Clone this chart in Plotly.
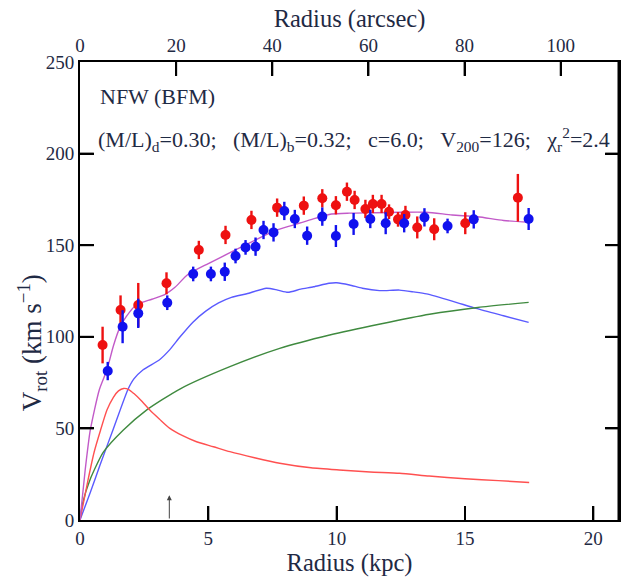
import plotly.graph_objects as go

# ---------------- data ----------------
red_r = [0.88, 1.58, 2.27, 3.37, 4.63, 5.67, 6.68, 7.68, 8.72, 9.44, 9.97, 10.40, 10.70,
         11.12, 11.41, 11.75, 12.04, 12.39, 12.68, 13.14, 13.80, 15.01, 17.06]
red_v = [95.5, 114.6, 117.4, 129.2, 147.4, 155.6, 163.8, 170.5, 171.6, 175.6, 171.8, 179.2, 174.7,
         169.8, 172.5, 172.5, 168.3, 164.1, 166.5, 159.7, 158.7, 162.0, 175.9]
red_e = [10, 8, 12, 6, 5, 5, 5, 5, 5, 5, 5, 5, 5,
         5, 5, 5, 4, 4, 5, 6, 6, 6, 13]

blue_r = [1.08, 1.66, 2.27, 3.40, 4.41, 5.10, 5.64, 6.06, 6.45, 6.84, 7.15, 7.54, 7.96,
          8.37, 8.85, 9.44, 9.97, 10.66, 11.31, 11.91, 12.63, 13.42, 14.32, 15.34, 17.48]
blue_v = [81.3, 105.5, 112.8, 118.6, 134.3, 134.3, 135.5, 144.1, 148.8, 149.2, 158.3, 157.0, 168.7,
          164.3, 155.2, 165.6, 155.0, 161.6, 164.3, 162.0, 162.0, 165.2, 160.5, 164.1, 164.3]
blue_e = [5, 9, 8, 4, 4, 4, 5, 4, 4, 5, 5, 5, 5,
          5, 5, 5, 6, 6, 5, 6, 5, 5, 4, 5, 6]

tot_r = [0, 0.2, 0.4, 0.75, 1.05, 1.3, 1.55, 1.8, 2.2, 2.8, 3.3, 3.7, 4.2, 5.0, 6.0, 7.0, 7.6, 8.3,
         9.0, 9.8, 10.5, 11.5, 12.5, 13.5, 14.5, 15.5, 16.5, 17.5]
tot_v = [0, 27, 49, 71, 82, 95, 105, 111, 117.5, 120.5, 123, 127, 134, 140, 147, 154, 158, 161,
         164, 167, 167.5, 167.7, 168, 168, 166.5, 165.5, 163.5, 162.5]

disk_r = [0, 0.4, 0.78, 1.28, 1.86, 2.1, 2.46, 3.1, 3.5, 3.9, 4.4, 4.9, 5.4, 5.9, 6.5, 7.26,
          7.7, 8.1, 8.6, 9.1, 9.7, 10.0, 10.5, 11.0, 11.67, 12.45, 13.0, 13.5, 14.5, 15.43,
          16.5, 17.48]
disk_v = [0, 15, 30, 49, 71, 77, 82, 87.5, 93, 100, 108, 114, 118.5, 121.5, 123.5, 126.5,
          125.5, 124.3, 126, 127.3, 129.2, 129.5, 128.3, 126.5, 125.2, 125.5, 124.5, 123.4,
          119.5, 115.5, 111.5, 107.9]

bulge_r = [0, 0.3, 0.55, 0.8, 1.05, 1.3, 1.5, 1.7, 1.9, 2.1, 2.4, 2.72, 3.1, 3.5, 4.0, 4.54,
           5.2, 5.84, 6.8, 7.78, 9.0, 10.1, 11.3, 12.45, 13.6, 15.0, 16.3, 17.5]
bulge_v = [0, 21, 37, 49, 60, 67, 70.5, 71.8, 71.2, 69, 65, 60, 55, 50, 46, 42.7,
           40, 37.3, 34, 31, 28.5, 27.3, 26.2, 25.5, 24, 22.5, 21.5, 20.5]

halo_r = [0, 0.1, 0.39, 0.91, 1.68, 2.59, 3.89, 5.84, 7.78, 9.73, 11.7, 13.62, 15.5, 17.48]
halo_v = [0, 9, 22, 37, 49, 60, 71.5, 83.7, 93.7, 101, 107, 112.3, 116, 118.8]

x_ticks = [0, 5, 10, 15, 20]
y_ticks = [0, 50, 100, 150, 200, 250]
arcsec_ticks = [0, 20, 40, 60, 80, 100]
kpc_per_arcsec = 0.1873
arrow_r = 3.48
arrow_top = 13.5

R_MAX = 21
V_MAX = 250
FONT = "Liberation Serif, Times New Roman, DejaVu Serif, serif"
TXT = "#1f2a44"
TICK_R = 0.54   # tick length in kpc (horizontal ticks)
TICK_V = 7.6    # tick length in km/s (vertical ticks)

fig = go.Figure()

for xs, ys, col in [(disk_r, disk_v, "#5a5aff"), (halo_r, halo_v, "#3f8a3f"),
                    (bulge_r, bulge_v, "#ff5050"), (tot_r, tot_v, "#c25ac8")]:
    fig.add_trace(go.Scatter(x=xs, y=ys, mode="lines",
                             line=dict(color=col, width=1.4, shape="spline", smoothing=0.6),
                             showlegend=False, hoverinfo="skip"))

fig.add_trace(go.Scatter(x=red_r, y=red_v, mode="markers",
                         marker=dict(color="#ee1111", size=10),
                         error_y=dict(type="data", array=red_e, color="#ee1111", thickness=2.4, width=0),
                         showlegend=False))
fig.add_trace(go.Scatter(x=blue_r, y=blue_v, mode="markers",
                         marker=dict(color="#1111ee", size=10),
                         error_y=dict(type="data", array=blue_e, color="#1111ee", thickness=2.4, width=0),
                         showlegend=False))

# ---- tick marks and right frame edge, drawn as one-sided error bars anchored on tick values ----
INVIS = dict(size=1, color="rgba(0,0,0,0)")
# bottom kpc ticks (upward)
fig.add_trace(go.Scatter(x=x_ticks[1:], y=[0] * (len(x_ticks) - 1), mode="markers", marker=INVIS,
                         error_y=dict(type="data", symmetric=False, array=[TICK_V] * (len(x_ticks) - 1),
                                      arrayminus=[0] * (len(x_ticks) - 1), color="black", thickness=2, width=0),
                         showlegend=False, hoverinfo="skip"))
# top arcsec ticks (downward), positioned through the kpc/arcsec conversion
top_pos = [a * kpc_per_arcsec for a in arcsec_ticks[1:]]
fig.add_trace(go.Scatter(x=top_pos, y=[V_MAX] * len(top_pos), mode="markers", marker=INVIS,
                         error_y=dict(type="data", symmetric=False, array=[0] * len(top_pos),
                                      arrayminus=[TICK_V] * len(top_pos), color="black", thickness=2, width=0),
                         showlegend=False, hoverinfo="skip"))
# left velocity ticks (rightward)
inner_v = y_ticks[1:-1]
fig.add_trace(go.Scatter(x=[0] * len(inner_v), y=inner_v, mode="markers", marker=INVIS,
                         error_x=dict(type="data", symmetric=False, array=[TICK_R] * len(inner_v),
                                      arrayminus=[0] * len(inner_v), color="black", thickness=2, width=0),
                         showlegend=False, hoverinfo="skip"))
# right velocity ticks (leftward)
fig.add_trace(go.Scatter(x=[R_MAX] * len(inner_v), y=inner_v, mode="markers", marker=INVIS,
                         error_x=dict(type="data", symmetric=False, array=[0] * len(inner_v),
                                      arrayminus=[TICK_R] * len(inner_v), color="black", thickness=2, width=0),
                         showlegend=False, hoverinfo="skip"))
# right frame edge
fig.add_trace(go.Scatter(x=[R_MAX], y=[0], mode="markers", marker=INVIS,
                         error_y=dict(type="data", symmetric=False, array=[V_MAX], arrayminus=[0],
                                      color="black", thickness=3, width=0),
                         showlegend=False, hoverinfo="skip"))

# invisible trace that activates the top (arcsec) axis
fig.add_trace(go.Scatter(x=[0], y=[0], xaxis="x2", mode="markers", marker=dict(opacity=0),
                         showlegend=False, hoverinfo="skip"))

fig.update_layout(
    template="none",
    width=623, height=577,
    margin=dict(l=80, r=4, t=62, b=57),
    plot_bgcolor="white", paper_bgcolor="white",
    font=dict(family=FONT, color=TXT),
    xaxis=dict(range=[0, R_MAX], tickmode="array", tickvals=x_ticks,
               ticks="inside", ticklen=14, tickwidth=2, tickcolor="black",
               showline=True, linecolor="black", linewidth=2, showgrid=False, zeroline=False,
               tickfont=dict(family=FONT, size=19, color=TXT),
               title=dict(text="Radius (kpc)", font=dict(family=FONT, size=24.5, color=TXT), standoff=1)),
    xaxis2=dict(range=[0, R_MAX / kpc_per_arcsec], tickmode="array", tickvals=arcsec_ticks,
                overlaying="x", side="top", anchor="y",
                ticks="inside", ticklen=14, tickwidth=2, tickcolor="black",
                showline=True, linecolor="black", linewidth=2, showgrid=False, zeroline=False,
                tickfont=dict(family=FONT, size=19, color=TXT),
                title=dict(text="Radius (arcsec)", font=dict(family=FONT, size=24.5, color=TXT), standoff=1)),
    yaxis=dict(range=[0, V_MAX], tickmode="array", tickvals=y_ticks, mirror="ticks",
               ticks="inside", ticklen=14, tickwidth=2, tickcolor="black",
               showline=True, linecolor="black", linewidth=2, showgrid=False, zeroline=False,
               tickfont=dict(family=FONT, size=19, color=TXT)),
    annotations=[
        dict(x=-0.089, y=0.386, xref="paper", yref="paper", xanchor="center", yanchor="middle",
             textangle=-90, text="V<sub>rot</sub> (km s<sup>−1</sup>)", showarrow=False,
             font=dict(family=FONT, size=27, color=TXT)),
        dict(x=0.033, y=0.9236, xref="paper", yref="paper", xanchor="left", yanchor="middle",
             text="NFW (BFM)", showarrow=False, font=dict(family=FONT, size=22, color=TXT)),
        dict(x=0.03, y=0.8297, xref="paper", yref="paper", xanchor="left", yanchor="middle",
             text="(M/L)<sub>d</sub>=0.30;&nbsp;&nbsp;&nbsp;(M/L)<sub>b</sub>=0.32;&nbsp;&nbsp;&nbsp;c=6.0;&nbsp;&nbsp;&nbsp;V<sub>200</sub>=126;&nbsp;&nbsp;&nbsp;χ<sub>r</sub><sup>2</sup>=2.4",
             showarrow=False, font=dict(family=FONT, size=22, color=TXT)),
        dict(x=arrow_r, y=arrow_top, ax=arrow_r, ay=0, xref="x", yref="y", axref="x", ayref="y",
             showarrow=True, arrowhead=2, arrowsize=1, arrowwidth=1, arrowcolor="#444", text=""),
    ],
)

fig.write_html("out.html")
